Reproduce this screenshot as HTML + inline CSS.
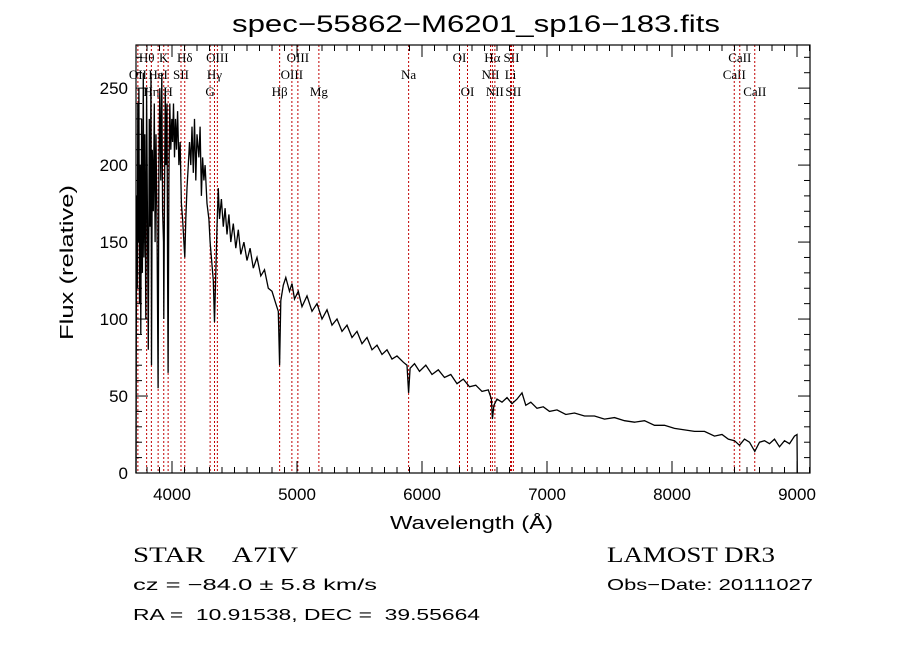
<!DOCTYPE html>
<html><head><meta charset="utf-8"><style>
html,body{margin:0;padding:0;background:#fff;}
svg{display:block;}
text{fill:#000;white-space:pre;}
</style></head><body>
<svg id="chart" width="900" height="649" viewBox="0 0 900 649" xmlns="http://www.w3.org/2000/svg" xml:space="preserve">
<rect x="0" y="0" width="900" height="649" fill="#fff"/>
<text x="232" y="32" font-family="Liberation Sans, sans-serif" font-size="24" textLength="488" lengthAdjust="spacingAndGlyphs">spec−55862−M6201_sp16−183.fits</text>
<g id="lines"></g>
<g id="spec"></g>
<g id="axes"></g>
<text x="390" y="529" font-family="Liberation Sans, sans-serif" font-size="18" textLength="163" lengthAdjust="spacingAndGlyphs">Wavelength (Å)</text>
<text transform="translate(73,340) rotate(-90)" font-family="Liberation Sans, sans-serif" font-size="18" textLength="155" lengthAdjust="spacingAndGlyphs">Flux (relative)</text>
<text x="133" y="562" font-family="Liberation Serif, serif" font-size="22" textLength="165" lengthAdjust="spacingAndGlyphs">STAR    A7IV</text>
<text x="133" y="590" font-family="Liberation Sans, sans-serif" font-size="16" textLength="244" lengthAdjust="spacingAndGlyphs">cz = −84.0 ± 5.8 km/s</text>
<text x="133" y="620" font-family="Liberation Sans, sans-serif" font-size="16" textLength="347" lengthAdjust="spacingAndGlyphs">RA =  10.91538, DEC =  39.55664</text>
<text x="607" y="562" font-family="Liberation Serif, serif" font-size="22" textLength="168" lengthAdjust="spacingAndGlyphs">LAMOST DR3</text>
<text x="607" y="590" font-family="Liberation Sans, sans-serif" font-size="16" textLength="206" lengthAdjust="spacingAndGlyphs">Obs−Date: 20111027</text>
</svg>
<script>
const wavelengths = [
3712,3714,3718,3722,3726,3730,3735,3740,3745,3750,
3757,3763,3770,3775,3782,3790,3797,3803,3810,3818,
3825,3832,3836,3842,3850,3858,3865,3872,3880,3889,
3895,3902,3910,3918,3925,3932,3934,3940,3946,3952,
3960,3965,3969,3975,3982,3990,3998,4005,4012,4020,
4028,4036,4045,4055,4065,4075,4085,4095,4102,4110,
4120,4130,4140,4150,4160,4170,4180,4190,4200,4215,
4225,4235,4245,4255,4265,4280,4295,4305,4315,4330,
4340,4350,4360,4370,4380,4395,4410,4425,4440,4455,
4470,4490,4510,4530,4550,4575,4600,4625,4650,4680,
4710,4740,4770,4800,4830,4850,4861,4870,4890,4910,
4940,4960,4980,5010,5040,5080,5120,5160,5200,5240,
5280,5320,5360,5400,5440,5480,5520,5560,5600,5640,
5680,5720,5760,5800,5850,5880,5893,5905,5940,5980,
6030,6080,6130,6180,6230,6280,6330,6380,6430,6480,
6530,6555,6563,6575,6600,6640,6680,6720,6760,6800,
6830,6870,6920,6970,7020,7080,7150,7220,7300,7380,
7460,7540,7620,7700,7780,7860,7940,8020,8100,8180,
8260,8340,8400,8450,8500,8540,8580,8620,8662,8700,
8740,8780,8820,8860,8900,8940,8980,9000,9002];
const fluxes = [
0,90,180,120,240,150,250,110,200,90,
230,130,260,140,220,100,250,170,80,230,
160,260,70,210,170,240,150,220,160,55,
200,250,190,260,170,150,100,180,250,200,
240,130,65,190,240,210,230,215,240,205,
230,210,235,200,215,175,165,150,140,165,
185,200,215,200,225,195,230,190,220,205,
225,180,205,190,200,175,165,150,140,125,
98,130,160,185,165,178,160,172,155,168,
150,162,146,158,142,150,138,146,133,140,
128,132,120,118,110,105,70,112,122,127,
118,123,113,118,108,115,105,110,100,106,
96,100,92,96,88,92,84,88,80,83,
77,80,74,76,72,70,52,68,71,66,
70,64,67,62,64,58,61,56,57,53,
54,48,35,44,48,46,49,45,48,52,
44,46,42,43,40,41,38,39,37,37,
35,36,34,33,34,31,31,29,28,27,
27,24,25,22,21,18,22,20,14,20,
21,19,22,17,21,19,24,25,0];
const xTicks = [4000,5000,6000,7000,8000,9000];
const yTicks = [0,50,100,150,200,250];
const lineWl = [3727,3797,3835,3889,3934,3969,4072,4102,4305,4340,4363,4861,4959,5007,5175,5893,6300,6364,6548,6563,6583,6708,6716,6731,8498,8542,8662];
const lineNames = ["OII","Hθ","Hη","HeI","K","H","SII","Hδ","G","Hγ","OIII","Hβ","OIII","OIII","Mg","Na","OI","OI","NII","Hα","NII","Li","SII","SII","CaII","CaII","CaII"];
const lineRows = [2,1,3,2,1,3,2,1,3,2,1,3,2,1,3,2,1,3,2,1,3,2,1,3,2,1,3];

const L=136,R=810,T=45,B=473, XMIN=3712, XMAX=9104, YMIN=0, YMAX=278;
const ns="http://www.w3.org/2000/svg";
function xs(w){return L+(w-XMIN)/(XMAX-XMIN)*(R-L);}
function ys(v){return B-(v-YMIN)/(YMAX-YMIN)*(B-T);}
function mk(tag,attrs,parent){const e=document.createElementNS(ns,tag);for(const k in attrs)e.setAttribute(k,attrs[k]);parent.appendChild(e);return e;}

const lg=document.getElementById('lines');
const rowY={1:62,2:79,3:96};
lineWl.forEach((w,i)=>{
  const x=xs(w);
  const ln=mk('line',{x1:x,x2:x,y1:T,y2:B,stroke:'#c00000','stroke-width':1,'stroke-dasharray':'2,2'},lg);
  
  
  const t=mk('text',{x:x,y:rowY[lineRows[i]],'text-anchor':'middle','font-family':'Liberation Serif, serif','font-size':13},lg);
  t.textContent=lineNames[i];
  
  
});

const sg=document.getElementById('spec');
let d='';
const n=Math.min(wavelengths.length,fluxes.length);
for(let i=0;i<n;i++){d+=(i?'L':'M')+xs(wavelengths[i]).toFixed(1)+','+ys(fluxes[i]).toFixed(1);}
const p=mk('path',{d:d,fill:'none',stroke:'#000','stroke-width':1.3},sg);



const ag=document.getElementById('axes');
const box=mk('rect',{x:L,y:T,width:R-L,height:B-T,fill:'none',stroke:'#000','stroke-width':1.2},ag);


for(let w=3800;w<=9100;w+=100){
  const x=xs(w), major=(w%1000===0), len=major?12:6;
  mk('line',{x1:x,x2:x,y1:B,y2:B-len,stroke:'#000'},ag);
  mk('line',{x1:x,x2:x,y1:T,y2:T+len,stroke:'#000'},ag);
}
xTicks.forEach(w=>{
  const t=mk('text',{x:xs(w),y:500,'text-anchor':'middle','font-family':'Liberation Sans, sans-serif','font-size':17},ag);
  t.textContent=w;
  
  
});
for(let v=0;v<=270;v+=10){
  const y=ys(v), major=(v%50===0), len=major?12:6;
  mk('line',{x1:L,x2:L+len,y1:y,y2:y,stroke:'#000'},ag);
  mk('line',{x1:R,x2:R-len,y1:y,y2:y,stroke:'#000'},ag);
}
yTicks.forEach(v=>{
  const t=mk('text',{x:128,y:ys(v)+6,'text-anchor':'end','font-family':'Liberation Sans, sans-serif','font-size':17},ag);
  t.textContent=v;
  
  
});
</script>
</body></html>
